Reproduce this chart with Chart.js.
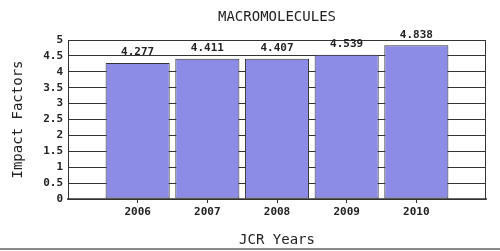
<!DOCTYPE html>
<html>
<head>
<meta charset="utf-8">
<script src="https://cdn.jsdelivr.net/npm/chart.js@4.4.0/dist/chart.umd.min.js"></script>
<style>
	html, body { margin: 0; padding: 0; background: #fff; }
	#wrap { width: 500px; height: 251px; }
</style>
</head>
<body>
<div id="wrap"><canvas id="ImpactChart"></canvas></div>
<script>
	var years = [2006, 2007, 2008, 2009, 2010];
	var impactFactors = [4.277, 4.411, 4.407, 4.539, 4.838];
	var valueLabels = ['4.277', '4.411', '4.407', '4.539', '4.838'];
	var chartTitle = 'MACROMOLECULES';

	var mono = '"DejaVu Sans Mono", monospace';

	// title, bar value labels, plot frame
	var extras = {
		id: 'extras',
		afterDatasetsDraw: function(chart) {
			var c = chart.ctx;
			var area = chart.chartArea;
			c.save();
			c.strokeStyle = '#333';
			c.lineWidth = 1;
			c.strokeRect(area.left + 0.5, area.top + 0.5, area.right - area.left - 1, area.bottom - area.top);

			c.fillStyle = '#222';
			c.font = 'bold 11px ' + mono;
			c.textAlign = 'center';
			c.textBaseline = 'bottom';
			chart.getDatasetMeta(0).data.forEach(function(bar, i) {
				c.fillText(valueLabels[i], bar.x, bar.y - 5);
			});

			c.font = '14px ' + mono;
			c.textBaseline = 'middle';
			c.fillText(chartTitle, (area.left + area.right) / 2, 17);

			c.strokeStyle = '#8a8a8a';
			c.lineWidth = 2;
			c.beginPath();
			c.moveTo(0, 249);
			c.lineTo(chart.width, 249);
			c.stroke();
			c.restore();
		}
	};

	var ctx = document.getElementById('ImpactChart');
	var myChart = new Chart(ctx, {
		type: 'bar',
		data: {
			datasets: [{
				data: years.map(function(y, i) { return { x: y, y: impactFactors[i] }; }),
				backgroundColor: 'rgb(140, 140, 230)',
				borderColor: '#333',
				borderWidth: 1,
				borderSkipped: false,
				barPercentage: 0.92,
				categoryPercentage: 1
			}]
		},
		options: {
			responsive: true,
			maintainAspectRatio: false,
			animation: false,
			layout: {
				padding: { top: 40, right: 14, left: 0, bottom: 0 }
			},
			scales: {
				x: {
					type: 'linear',
					min: 2005,
					max: 2011,
					offset: false,
					afterBuildTicks: function(scale) {
						scale.ticks = years.map(function(y) { return { value: y }; });
					},
					afterFit: function(scale) {
						scale.height = 52;
					},
					ticks: {
						stepSize: 1,
						autoSkip: false,
						maxRotation: 0,
						padding: 3,
						color: '#222',
						font: { family: mono, size: 11, weight: 'bold' },
						callback: function(v) { return String(v); }
					},
					grid: {
						offset: false,
						drawOnChartArea: false,
						tickLength: 4,
						color: '#333'
					},
					border: { color: '#666', width: 2 },
					title: {
						display: true,
						text: 'JCR Years',
						color: '#222',
						font: { family: mono, size: 14 },
						padding: { top: 0, bottom: 2 }
					}
				},
				y: {
					min: 0,
					max: 5,
					afterFit: function(scale) {
						scale.width = 68;
					},
					ticks: {
						stepSize: 0.5,
						autoSkip: false,
						padding: 5,
						color: '#222',
						font: { family: mono, size: 11, weight: 'bold' },
						callback: function(v) { return String(v); }
					},
					grid: {
						drawTicks: false,
						color: '#333'
					},
					border: { color: '#333' },
					title: {
						display: true,
						text: 'Impact Factors',
						color: '#222',
						font: { family: mono, size: 14 },
						padding: { top: 10, bottom: 0 }
					}
				}
			},
			plugins: {
				legend: { display: false },
				tooltip: { enabled: false }
			}
		},
		plugins: [extras]
	});
</script>
</body>
</html>
